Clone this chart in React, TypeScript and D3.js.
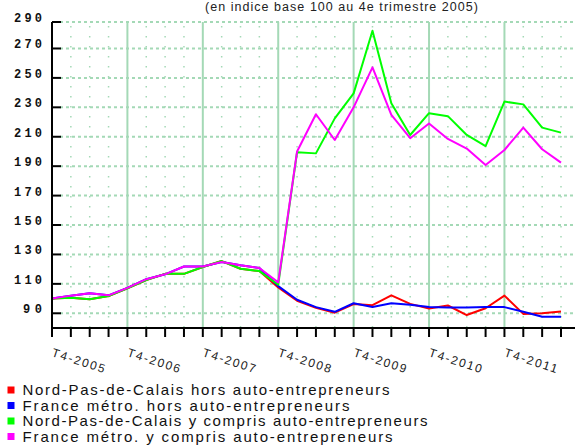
import * as d3 from 'd3';
import * as React from 'react';

const width = 575;
const height = 445;
const margin = { top: 22, right: 14, bottom: 117, left: 52 };

// trimestres, de T4-2005 à T3-2012
const quarters: string[] = [];
for (let y = 2005; y <= 2012; y++) {
  for (let q = 1; q <= 4; q++) {
    if ((y === 2005 && q < 4) || (y === 2012 && q > 3)) continue;
    quarters.push(`T${q}-${y}`);
  }
}

const yTicks = [90, 110, 130, 150, 170, 190, 210, 230, 250, 270, 290];

const npdcHors = [100, 100.6, 99.5, 101.7, 107, 112.6, 116.8, 116.8, 121.5, 125.5, 120.3, 118.7, 107.5, 98.5, 93.8, 90.4, 96.3, 95.5, 102.2, 96.4, 93.2, 95.3, 88.8, 93.4, 102, 89.6, 90, 91.2];
const franceHors = [100, 102, 103.6, 102.2, 107.3, 113.2, 116.5, 121.8, 121.8, 124.9, 122.6, 120.8, 108.5, 99.2, 94.2, 91, 96.8, 94.3, 96.8, 95.8, 94.2, 94, 94, 94.2, 94.2, 91, 87.7, 87.7];
const npdcYc = [100, 100.6, 99.5, 101.7, 107, 112.6, 116.8, 116.8, 121.5, 125.5, 120.3, 118.7, 109.5, 199.5, 198.7, 222.5, 239.5, 282, 232.7, 211.2, 226, 224, 211.2, 203.7, 233.9, 232, 216.2, 212.8];
const franceYc = [100, 102, 103.6, 102.2, 107.3, 113.2, 116.5, 121.8, 121.8, 124.9, 122.6, 120.8, 111, 200, 225.3, 207.8, 230, 257.2, 224.8, 209, 219, 208.5, 202, 190.8, 201, 216.2, 201.5, 192.4];

const series = [
  { name: 'Nord-Pas-de-Calais hors auto-entrepreneurs', values: npdcHors, color: '#ff0000', len: 367 },
  { name: 'France métro. hors auto-entrepreneurs', values: franceHors, color: '#0000ff', len: 327 },
  { name: 'Nord-Pas-de-Calais y compris auto-entrepreneurs', values: npdcYc, color: '#00ff00', len: 405 },
  { name: 'France métro. y compris auto-entrepreneurs', values: franceYc, color: '#ff00ff', len: 370 },
];

const gridColor = '#a4d9b6';

export default function App() {
  const x = d3
    .scalePoint<string>()
    .domain(quarters)
    .range([margin.left, 561]);

  const y = d3
    .scaleLinear()
    .domain([80, 288])
    .range([height - margin.bottom, margin.top])
    .clamp(true);

  const line = d3
    .line<number>()
    .x((d, i) => x(quarters[i]) as number)
    .y(d => y(d));

  const x0 = margin.left;
  const y0 = height - margin.bottom;

  return (
    <svg
      width={width}
      height={height}
      style={{ position: 'absolute', left: 0, top: 0, background: '#fff' }}
    >
      <text
        x={205}
        y={11}
        fontFamily="Liberation Sans, Arial, sans-serif"
        fontSize={12.5}
        textLength={273}
        lengthAdjust="spacing"
        fill="#222"
      >
        (en indice base 100 au 4e trimestre 2005)
      </text>

      {/* grille horizontale */}
      {yTicks.map(t => (
        <line
          key={'h' + t}
          x1={x0 + 8}
          x2={width}
          y1={y(t)}
          y2={y(t)}
          stroke={gridColor}
          strokeWidth={2}
          strokeDasharray="3,3"
        />
      ))}

      {/* grille verticale */}
      {quarters.map((q, i) =>
        i === 0 ? null : q.startsWith('T4') ? (
          <line
            key={'v' + q}
            x1={x(q)}
            x2={x(q)}
            y1={margin.top}
            y2={y0}
            stroke={gridColor}
            strokeWidth={2}
          />
        ) : (
          <line
            key={'v' + q}
            x1={x(q)}
            x2={x(q)}
            y1={margin.top + 4}
            y2={y0}
            stroke={gridColor}
            strokeWidth={1.5}
            strokeDasharray="1.5,8.5"
          />
        ),
      )}

      {/* courbes */}
      {series.map(s => (
        <path
          key={s.name}
          d={line(s.values) as string}
          fill="none"
          stroke={s.color}
          strokeWidth={2}
          strokeLinejoin="round"
        />
      ))}

      {/* axe Y */}
      <line x1={x0} x2={x0} y1={margin.top} y2={y0} stroke="#000" strokeWidth={2} />
      {yTicks.map(t => (
        <g key={'yt' + t}>
          <line x1={x0} x2={x0 + 9} y1={y(t)} y2={y(t)} stroke="#000" strokeWidth={2} />
          <text
            x={42}
            y={y(t)}
            textAnchor="end"
            fontFamily="Liberation Mono, DejaVu Sans Mono, monospace"
            fontWeight="bold"
            fontSize={12}
            textLength={t < 100 ? 19 : 28}
            lengthAdjust="spacing"
            fill="#111"
          >
            {t}
          </text>
        </g>
      ))}

      {/* axe X */}
      <line x1={x0 - 1} x2={width} y1={y0} y2={y0} stroke="#000" strokeWidth={2} />
      {quarters.map(q => (
        <line
          key={'xt' + q}
          x1={x(q)}
          x2={x(q)}
          y1={y0}
          y2={y0 + 9}
          stroke="#000"
          strokeWidth={2}
        />
      ))}
      {quarters
        .filter(q => q.startsWith('T4'))
        .map(q => (
          <text
            key={'xl' + q}
            transform={`translate(${(x(q) as number) - 1},356) rotate(18)`}
            fontFamily="Liberation Sans, Arial, sans-serif"
            fontSize={12}
            textLength={55}
            lengthAdjust="spacing"
            fill="#222"
          >
            {q}
          </text>
        ))}

      {/* légende */}
      {series.map((s, i) => (
        <g key={'lg' + s.name} transform={`translate(0,${395 + i * 15.5})`}>
          <rect x={7.5} y={-8.5} width={7} height={7} fill={s.color} />
          <text
            x={22.5}
            y={0}
            fontFamily="Liberation Sans, Arial, sans-serif"
            fontSize={15}
            textLength={s.len}
            lengthAdjust="spacing"
            fill="#111"
          >
            {s.name}
          </text>
        </g>
      ))}
    </svg>
  );
}
